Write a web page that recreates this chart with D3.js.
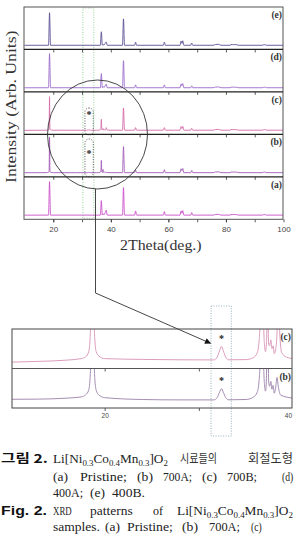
<!DOCTYPE html>
<html>
<head>
<meta charset="utf-8">
<script src="https://cdn.jsdelivr.net/npm/d3@7"></script>
<style>
  body { margin: 0; background: #fff; }
  svg { display: block; }
</style>
</head>
<body>
<script>
// stacked XRD patterns, top to bottom
const panelLabels = ['(e)', '(d)', '(c)', '(b)', '(a)'];
const lineColors = ['#5b4f94', '#9a6acb', '#d56aa8', '#a35ab8', '#c94fca'];
const xTicks = [20, 40, 60, 80, 100];
const xMinor = [20, 30, 40, 50, 60, 70, 80, 90];

// enlarged view of (c) and (b), 10-40 deg
const zoomLabels = ['(c)', '(b)'];
const zoomColors = ['#dc9cbc', '#a58db2'];
const zoomTicks = [20, 30];
const zoomTickLabels = [20, 40];

// [2theta, intensity]
const patternE = [
  [10, 0.9], [18.35, 1], [18.7, 102], [19.05, 1],
  [36.35, 1], [36.7, 43], [37.05, 1.2], [37.3, 4], [37.6, 1.5], [37.9, 5], [38.4, 11], [38.75, 1],
  [44.05, 1], [44.4, 83], [44.75, 1],
  [48.25, 1], [48.6, 11], [48.95, 1],
  [58.25, 1], [58.6, 11], [58.95, 1],
  [64.05, 1], [64.4, 14], [64.7, 7], [65.0, 15], [65.35, 1],
  [67.75, 1], [68.1, 8], [68.45, 1],
  [75.5, 1], [76.4, 3.5], [77.4, 4], [78.3, 1],
  [81.4, 1], [82.1, 4], [82.6, 2.5], [83.3, 3.5], [84.5, 1],
  [92.6, 1], [93.3, 3], [94.2, 1], [100, 1]
];
const patternD = [
  [10, 0.9], [18.35, 1], [18.7, 107], [19.05, 1],
  [36.35, 1], [36.7, 45], [37.05, 1.2], [37.3, 5], [37.6, 1.5], [37.9, 5], [38.4, 12], [38.75, 1],
  [44.05, 1], [44.4, 85], [44.75, 1],
  [48.25, 1], [48.6, 10], [48.95, 1],
  [58.25, 1], [58.6, 10], [58.95, 1],
  [64.05, 1], [64.4, 13], [64.7, 7], [65.0, 14], [65.35, 1],
  [67.75, 1], [68.1, 7], [68.45, 1],
  [75.5, 1], [76.4, 3], [77.4, 3.5], [78.3, 1],
  [81.4, 1], [82.1, 3.5], [82.6, 2.5], [83.3, 3], [84.5, 1],
  [92.6, 1], [93.3, 3], [94.2, 1], [100, 1]
];
const patternC = [
  [10, 0.64], [13, 0.72], [16, 0.85], [17.5, 1.0], [18.0, 1.2], [18.3, 1.7], [18.45, 3], [18.56, 7],
  [18.7, 105], [18.84, 7], [18.95, 3], [19.1, 1.7], [19.4, 1.25], [20, 1.0], [24, 0.92], [28, 0.88],
  [31.6, 0.87], [31.95, 1.15], [32.2, 1.8], [32.4, 2.25], [32.6, 1.8], [32.85, 1.15], [33.2, 0.88],
  [35, 0.9], [35.8, 1.1], [36.2, 1.6], [36.4, 2.8], [36.55, 6], [36.7, 35], [36.85, 6], [36.97, 2.4],
  [37.08, 1.7], [37.18, 2.6], [37.3, 6], [37.42, 2.4], [37.52, 2.3], [37.65, 2.9], [37.76, 2.0],
  [37.9, 2.3], [38.0, 1.5], [38.15, 1.9], [38.3, 3.5], [38.45, 9], [38.6, 3.5], [38.8, 1.6],
  [39.3, 1.15], [40, 1.0],
  [44.05, 1], [44.4, 70], [44.75, 1],
  [48.25, 1], [48.6, 9], [48.95, 1],
  [58.25, 1], [58.6, 9], [58.95, 1],
  [64.05, 1], [64.4, 12], [64.7, 6], [65.0, 13], [65.35, 1],
  [67.75, 1], [68.1, 7], [68.45, 1],
  [75.5, 1], [76.4, 3], [77.4, 3.5], [78.3, 1],
  [81.4, 1], [82.1, 3.5], [82.6, 2.5], [83.3, 3], [84.5, 1],
  [92.6, 1], [93.3, 3], [94.2, 1], [100, 1]
];
const patternB = [
  [10, 0.88], [13, 0.9], [16, 1.0], [17.5, 1.12], [18.0, 1.35], [18.3, 1.8], [18.45, 3], [18.56, 7],
  [18.7, 112], [18.84, 7], [18.95, 3], [19.1, 1.8], [19.4, 1.3], [20, 1.05], [24, 0.86], [28, 0.82],
  [31.6, 0.82], [31.95, 1.05], [32.2, 1.6], [32.4, 1.95], [32.6, 1.6], [32.85, 1.05], [33.2, 0.83],
  [35, 0.86], [35.8, 1.1], [36.2, 1.6], [36.4, 2.8], [36.55, 6], [36.7, 39], [36.85, 6], [36.97, 2.4],
  [37.08, 1.7], [37.18, 3], [37.3, 11], [37.42, 2.6], [37.52, 2.2], [37.65, 2.7], [37.76, 1.9],
  [37.9, 2.3], [38.0, 1.5], [38.15, 2.0], [38.3, 3.1], [38.45, 2.1], [38.7, 1.3], [40, 1.0],
  [44.05, 1], [44.4, 82], [44.75, 1],
  [48.25, 1], [48.6, 9], [48.95, 1],
  [58.25, 1], [58.6, 10], [58.95, 1],
  [64.05, 1], [64.4, 13], [64.7, 7], [65.0, 14], [65.35, 1],
  [67.75, 1], [68.1, 8], [68.45, 1],
  [75.5, 1], [76.4, 3], [77.4, 3.5], [78.3, 1],
  [81.4, 1], [82.1, 3.5], [82.6, 2.5], [83.3, 3], [84.5, 1],
  [92.6, 1], [93.3, 3], [94.2, 1], [100, 1]
];
const patternA = [
  [10, 0.9], [18.35, 1], [18.7, 105], [19.05, 1],
  [36.35, 1], [36.7, 46], [37.05, 1.2], [37.3, 5], [37.6, 1.5], [37.9, 6], [38.4, 16], [38.75, 1],
  [44.05, 1], [44.4, 87], [44.75, 1],
  [48.25, 1], [48.6, 14], [48.95, 1],
  [58.25, 1], [58.6, 12], [58.95, 1],
  [64.05, 1], [64.4, 14], [64.7, 7], [65.0, 15], [65.35, 1],
  [67.75, 1], [68.1, 9], [68.45, 1],
  [75.5, 1], [76.4, 3], [77.4, 3.5], [78.3, 1],
  [81.4, 1], [82.1, 3.5], [82.6, 2.5], [83.3, 3], [84.5, 1],
  [92.6, 1], [93.3, 3], [94.2, 1], [100, 1]
];

const W = 294, H = 547;
const serif = '"Liberation Serif", "DejaVu Serif", serif';
const svg = d3.select('body').append('svg')
  .attr('width', W).attr('height', H)
  .style('background', '#fff');

const defs = svg.append('defs');

// ---------- main stacked plot ----------
const mainLeft = 24, mainRight = 283, mainTop = 7, mainBottom = 219.3;
const panelH = (mainBottom - mainTop) / 5;
const x = d3.scaleLinear().domain([10, 100]).range([24.5, 283.5]);
const y = d3.scaleLinear().domain([-12, 120]).range([panelH, 0]);
const line = d3.line().x(d => x(d[0])).y(d => y(d[1])).curve(d3.curveMonotoneX);

defs.append('clipPath').attr('id', 'mainClip')
  .append('rect').attr('x', mainLeft).attr('y', 0)
  .attr('width', mainRight - mainLeft).attr('height', panelH);

const patterns = [patternE, patternD, patternC, patternB, patternA];

// green dotted guide behind everything
svg.append('rect')
  .attr('x', x(30.3)).attr('y', mainTop + 1)
  .attr('width', x(34.1) - x(30.3)).attr('height', mainBottom - mainTop - 2)
  .attr('fill', 'none').attr('stroke', '#7cc47c').attr('stroke-width', 0.8)
  .attr('stroke-dasharray', '1,1.5');

patterns.forEach((p, i) => {
  const g = svg.append('g').attr('transform', `translate(0,${mainTop + i * panelH})`);
  g.append('path').datum(p)
    .attr('d', line)
    .attr('fill', 'none')
    .attr('stroke', lineColors[i])
    .attr('stroke-width', 0.9)
    .attr('clip-path', 'url(#mainClip)');

  const ax = g.append('g').attr('transform', `translate(0,${panelH})`)
    .call(d3.axisBottom(x).tickValues(xMinor).tickSize(3).tickFormat(''));
  ax.select('.domain').remove();
  ax.selectAll('line').attr('stroke', '#333').attr('stroke-width', 0.8);

  g.append('text')
    .attr('x', mainRight - 1).attr('y', 11)
    .attr('text-anchor', 'end')
    .attr('font-family', serif).attr('font-size', 9.5).attr('font-weight', 'bold')
    .attr('fill', '#333')
    .text(panelLabels[i]);
});

// frame and separators
svg.append('rect')
  .attr('x', mainLeft).attr('y', mainTop)
  .attr('width', mainRight - mainLeft).attr('height', mainBottom - mainTop)
  .attr('fill', 'none').attr('stroke', '#555').attr('stroke-width', 1);
d3.range(1, 5).forEach(i => {
  svg.append('line')
    .attr('x1', mainLeft).attr('x2', mainRight)
    .attr('y1', mainTop + i * panelH).attr('y2', mainTop + i * panelH)
    .attr('stroke', '#222').attr('stroke-width', 1.2);
});

const bottomAxis = svg.append('g').attr('transform', `translate(0,${mainBottom})`)
  .call(d3.axisBottom(x).tickValues(xTicks).tickSize(3).tickPadding(4).tickFormat(d3.format('d')));
bottomAxis.select('.domain').remove();
bottomAxis.selectAll('line').attr('stroke', '#333').attr('stroke-width', 0.8);
bottomAxis.selectAll('text')
  .attr('font-family', '"Liberation Sans", Arial, sans-serif')
  .attr('font-size', 8).attr('fill', '#444');

// impurity marks in (c) and (b)
[[2, 113.5, 108, 135], [3, 153, 139, 177]].forEach(([i, sy, top, bot]) => {
  svg.append('rect')
    .attr('x', x(31.0)).attr('y', top)
    .attr('width', x(33.9) - x(31.0)).attr('height', bot - top)
    .attr('rx', 4)
    .attr('fill', 'none').attr('stroke', '#333').attr('stroke-width', 0.8)
    .attr('stroke-dasharray', '1,1.5');
  svg.append('text')
    .attr('x', x(32.4)).attr('y', sy + 4)
    .attr('text-anchor', 'middle')
    .attr('font-family', serif).attr('font-size', 10).attr('font-weight', 'bold')
    .attr('fill', '#222')
    .text('*');
});

// circle around the region and connector to the enlarged view
svg.append('ellipse')
  .attr('cx', 97.5).attr('cy', 134.5).attr('rx', 50).attr('ry', 54.5)
  .attr('fill', 'none').attr('stroke', '#333').attr('stroke-width', 0.9);

defs.append('marker').attr('id', 'arrow')
  .attr('viewBox', '0 0 10 10').attr('refX', 10).attr('refY', 5)
  .attr('markerUnits', 'userSpaceOnUse')
  .attr('markerWidth', 7).attr('markerHeight', 6).attr('orient', 'auto')
  .append('path').attr('d', 'M0,0L10,5L0,10Z').attr('fill', '#111');

svg.append('path')
  .attr('d', 'M95.5,189V293L211,343.5')
  .attr('fill', 'none').attr('stroke', '#333').attr('stroke-width', 0.9)
  .attr('marker-end', 'url(#arrow)');

// text squeezed to a measured width
function fitText(parent, x0, x1, yb, build) {
  const g = parent.append('g');
  const t = g.append('text');
  build(t);
  const w = t.node().getBBox().width;
  const sx = x1 != null ? (x1 - x0) / w : 0.8;
  g.attr('transform', `translate(${x0},${yb}) scale(${sx},1)`);
  return t;
}

fitText(svg, 120, 202, 250, t => t
  .attr('font-family', serif).attr('font-size', 14).attr('fill', '#333')
  .text('2Theta(deg.)'));

(function () {
  const g = svg.append('g');
  const t = g.append('text')
    .attr('font-family', serif).attr('font-size', 14).attr('fill', '#333')
    .text('Intensity (Arb. Units)');
  const w = t.node().getBBox().width;
  g.attr('transform', `translate(15.5,183) rotate(-90) scale(${153 / w},1)`);
})();

// ---------- enlarged view ----------
const zLeft = 12, zRight = 292, zTop = 329, zH = 39.5;
const xz = d3.scaleLinear().domain([10, 40]).range([10.5, 293]);
const yz = d3.scaleLinear().domain([0, 4]).range([zH, 0]);
const zline = d3.line().x(d => xz(d[0])).y(d => yz(d[1])).curve(d3.curveMonotoneX);

defs.append('clipPath').attr('id', 'zoomClip')
  .append('rect').attr('x', zLeft).attr('y', 0)
  .attr('width', zRight - zLeft).attr('height', zH);

// dotted box around the impurity peak
svg.append('rect')
  .attr('x', xz(31.3)).attr('y', 306)
  .attr('width', xz(33.45) - xz(31.3)).attr('height', 130)
  .attr('fill', 'none').attr('stroke', '#7a9fa8').attr('stroke-width', 0.8)
  .attr('stroke-dasharray', '1,1.5');

[patternC, patternB].forEach((p, i) => {
  const g = svg.append('g').attr('transform', `translate(0,${zTop + i * zH})`);
  g.append('path').datum(p.filter(d => d[0] <= 41))
    .attr('d', zline)
    .attr('fill', 'none')
    .attr('stroke', zoomColors[i])
    .attr('stroke-width', 1)
    .attr('clip-path', 'url(#zoomClip)');

  const ax = g.append('g').attr('transform', `translate(0,${zH})`)
    .call(d3.axisBottom(xz).tickValues(zoomTicks).tickSize(3).tickFormat(''));
  ax.select('.domain').remove();
  ax.selectAll('line').attr('stroke', '#333').attr('stroke-width', 0.8);

  g.append('text')
    .attr('x', zRight - 1).attr('y', 11)
    .attr('text-anchor', 'end')
    .attr('font-family', serif).attr('font-size', 9.5).attr('font-weight', 'bold')
    .attr('fill', '#333')
    .text(zoomLabels[i]);

  g.append('text')
    .attr('x', xz(32.4)).attr('y', (i === 0 ? 9 : 11) + 4)
    .attr('text-anchor', 'middle')
    .attr('font-family', serif).attr('font-size', 10).attr('font-weight', 'bold')
    .attr('fill', '#222')
    .text('*');
});

svg.append('rect')
  .attr('x', zLeft).attr('y', zTop)
  .attr('width', zRight - zLeft).attr('height', 2 * zH)
  .attr('fill', 'none').attr('stroke', '#444').attr('stroke-width', 1);
svg.append('line')
  .attr('x1', zLeft).attr('x2', zRight)
  .attr('y1', zTop + zH).attr('y2', zTop + zH)
  .attr('stroke', '#555').attr('stroke-width', 1);

const zAxis = svg.append('g').attr('transform', `translate(0,${zTop + 2 * zH})`)
  .call(d3.axisBottom(xz).tickValues(zoomTickLabels).tickSize(0).tickPadding(5).tickFormat(d3.format('d')));
zAxis.select('.domain').remove();
zAxis.selectAll('text')
  .attr('font-family', '"Liberation Sans", Arial, sans-serif')
  .attr('font-size', 6.5).attr('fill', '#444')
  .attr('text-anchor', d => d === 40 ? 'end' : 'middle')
  .attr('dx', d => d === 40 ? -1.5 : 0);

// ---------- caption ----------
const cap = svg.append('g').attr('font-family', serif).attr('font-size', 12).attr('fill', '#222');
const kr = '"Noto Sans CJK KR", sans-serif';

function formula(t) {
  const parts = [['Li[Ni', false], ['0.3', true], ['Co', false], ['0.4', true],
    ['Mn', false], ['0.3', true], [']O', false], ['2', true]];
  let down = false;
  parts.forEach(([s, sub]) => {
    const ts = t.append('tspan').text(s);
    if (sub) { ts.attr('font-size', 8).attr('dy', 2.5); down = true; }
    else if (down) { ts.attr('dy', -2.5); down = false; }
  });
}

function words(yb, list) {
  list.forEach(([x0, x1, content, style]) => {
    fitText(cap, x0, x1, yb, t => {
      if (style === 'krb') t.attr('font-family', kr).attr('font-weight', 'bold').attr('fill', '#111');
      if (style === 'b') t.attr('font-family', '"Liberation Sans", Arial, sans-serif').attr('font-weight', 'bold').attr('fill', '#111');
      if (style === 'kr') t.attr('font-family', kr).attr('font-size', 12.5).attr('fill', '#333');
      if (content === 'F') formula(t); else t.text(content);
    });
  });
}

words(463, [
  [1, 48, '그림 2.', 'krb'],
  [53, 168, 'F'],
  [180, 217, '시료들의', 'kr'],
  [248, 293, '회절도형', 'kr']
]);
words(481, [
  [53, 68, '(a)'], [80, 127, 'Pristine;'], [137, 153, '(b)'], [163, 192, '700A;'],
  [202, 217, '(c)'], [227, 257, '700B;'], [282, null, '(d)']
]);
words(497, [
  [53, 83, '400A;'], [90, 105, '(e)'], [112, 145, '400B.']
]);
words(515, [
  [1, 47, 'Fig. 2.', 'b'],
  [53, 72, 'XRD'], [90, 133, 'patterns'], [153, 163, 'of'], [177, 293, 'F']
]);
words(531, [
  [53, 100, 'samples.'], [105, 120, '(a)'], [127, 173, 'Pristine;'], [182, 198, '(b)'],
  [209, 240, '700A;'], [251, null, '(c)']
]);
</script>
</body>
</html>
